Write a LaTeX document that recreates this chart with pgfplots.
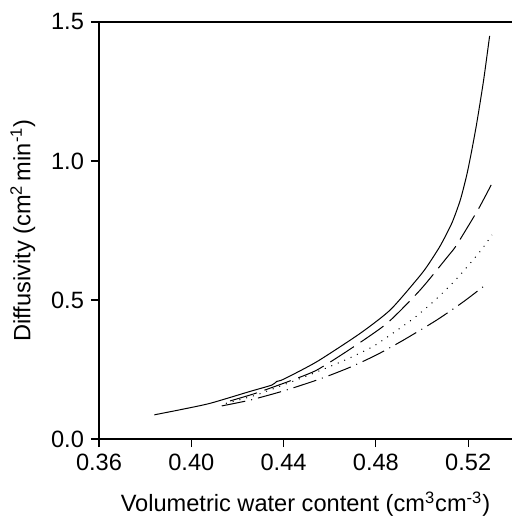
\documentclass[border=0pt]{standalone}
\usepackage{fontspec}
\setmainfont{Liberation Sans}
\usepackage{pgfplots}
\pgfplotsset{compat=1.18}

\begin{document}
\begin{tikzpicture}
\begin{axis}[
  scale only axis,
  width=206.5pt, height=208.5pt,
  xmin=0.36, xmax=0.539,
  ymin=0, ymax=1.5,
  axis x line*=box, axis y line*=left,
  axis line style={line width=0.8pt},
  xtick={0.36,0.40,0.44,0.48,0.52},
  ytick={0,0.5,1.0,1.5},
  xticklabel style={/pgf/number format/.cd,fixed,fixed zerofill,precision=2},
  yticklabel style={/pgf/number format/.cd,fixed,fixed zerofill,precision=1},
  /pgf/number format/assume math mode=true,
  tick align=outside, tick pos=left,
  major tick length=4pt,
  tick style={line width=0.6pt,black},
  tick label style={font=\fontsize{11.8}{13}\selectfont},
  label style={font=\fontsize{11.8}{13}\selectfont},
  xlabel={Volumetric water content (cm\textsuperscript{3}cm\textsuperscript{-3})},
  ylabel={Diffusivity (cm\textsuperscript{2}\,min\textsuperscript{-1})},
  xlabel style={yshift=-3.5pt},
  ylabel style={yshift=1pt},
]
\addplot[black, line width=0.5pt, smooth, tension=0.4] coordinates {
  (0.384,0.087)(0.395,0.105)(0.408,0.128)(0.425,0.170)(0.4349,0.194)
  (0.437,0.207)(0.44,0.215)(0.4544,0.278)(0.4732,0.380)(0.4862,0.464)
  (0.4978,0.574)(0.5021,0.620)(0.5079,0.695)(0.5130,0.778)(0.5166,0.860)
  (0.5194,0.950)(0.5216,1.040)(0.5238,1.140)(0.5267,1.291)(0.5293,1.450)
};
\addplot[black, line width=0.5pt, smooth, tension=0.4, dash pattern=on 14pt off 4pt] coordinates {
  (0.4168,0.137)(0.4277,0.164)(0.4428,0.209)(0.4544,0.248)(0.4688,0.323)
  (0.4848,0.416)(0.4992,0.536)(0.5111,0.656)(0.5147,0.694)(0.5212,0.782)
  (0.5249,0.834)(0.5300,0.914)
};
\addplot[black, line width=0.5pt, smooth, tension=0.4, dash pattern=on 0.5pt off 3pt] coordinates {
  (0.415,0.128)(0.428,0.158)(0.44,0.195)(0.4486,0.222)(0.4587,0.256)
  (0.4688,0.292)(0.4790,0.334)(0.4876,0.382)(0.4970,0.438)(0.5057,0.500)
  (0.5152,0.578)(0.5253,0.676)(0.5303,0.734)
};
\addplot[black, line width=0.5pt, smooth, tension=0.4, dash pattern=on 12pt off 3pt on 0.5pt off 3pt] coordinates {
  (0.4132,0.119)(0.4255,0.140)(0.44,0.173)(0.4558,0.216)(0.4688,0.258)
  (0.4804,0.303)(0.492,0.356)(0.5064,0.428)(0.518,0.494)(0.5284,0.560)
};
\end{axis}
\pgfresetboundingbox
\path (-49.5pt,-39pt) rectangle (206.5pt,219.5pt);
\end{tikzpicture}
\end{document}
